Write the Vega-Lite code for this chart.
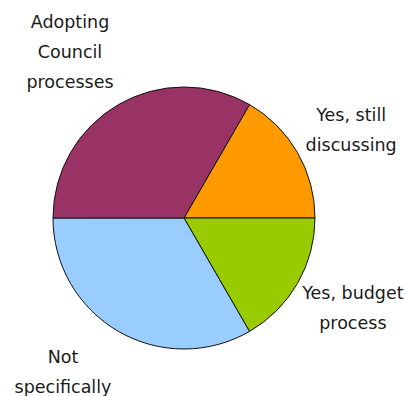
{
  "$schema": "https://vega.github.io/schema/vega-lite/v6.json",
  "width": 368,
  "height": 356,
  "autosize": {"type": "none"},
  "padding": {"left": 0, "top": 40, "right": 38, "bottom": 0},
  "background": "white",
  "view": {"stroke": null},
  "data": {
    "values": [
      {"category": "Yes, still discussing", "label": ["Yes, still", "discussing"], "value": 1, "order": 1},
      {"category": "Yes, budget process", "label": ["Yes, budget", "process"], "value": 1, "order": 2},
      {"category": "Not specifically", "label": ["Not", "specifically"], "value": 2, "order": 3},
      {"category": "Adopting Council processes", "label": ["Adopting", "Council", "processes"], "value": 2, "order": 4}
    ]
  },
  "encoding": {
    "theta": {"field": "value", "type": "quantitative", "stack": true, "scale": {"range": [0.5236, 6.8068]}},
    "order": {"field": "order", "type": "quantitative"}
  },
  "layer": [
    {
      "mark": {"type": "arc", "outerRadius": 131, "stroke": "#111111", "strokeWidth": 1},
      "encoding": {
        "color": {
          "field": "category",
          "type": "nominal",
          "legend": null,
          "scale": {
            "domain": ["Yes, still discussing", "Yes, budget process", "Not specifically", "Adopting Council processes"],
            "range": ["#FF9900", "#99CC00", "#99CCFF", "#993366"]
          }
        }
      }
    },
    {
      "mark": {"type": "text", "radius": 193, "dy": -6, "font": "DejaVu Sans", "fontSize": 17.5, "lineHeight": 30, "color": "#1a1a1a", "align": "center", "baseline": "middle"},
      "encoding": {"text": {"condition": {"test": "datum.order == 1", "field": "label"}, "value": ""}}
    },
    {
      "mark": {"type": "text", "radius": 195, "dy": -22, "font": "DejaVu Sans", "fontSize": 17.5, "lineHeight": 30, "color": "#1a1a1a", "align": "center", "baseline": "middle"},
      "encoding": {"text": {"condition": {"test": "datum.order == 2", "field": "label"}, "value": ""}}
    },
    {
      "mark": {"type": "text", "radius": 162, "dx": -40, "font": "DejaVu Sans", "fontSize": 17.5, "lineHeight": 30, "color": "#1a1a1a", "align": "center", "baseline": "middle"},
      "encoding": {"text": {"condition": {"test": "datum.order == 3", "field": "label"}, "value": ""}}
    },
    {
      "mark": {"type": "text", "radius": 228, "dy": 2, "font": "DejaVu Sans", "fontSize": 17.5, "lineHeight": 30, "color": "#1a1a1a", "align": "center", "baseline": "middle"},
      "encoding": {"text": {"condition": {"test": "datum.order == 4", "field": "label"}, "value": ""}}
    }
  ]
}
